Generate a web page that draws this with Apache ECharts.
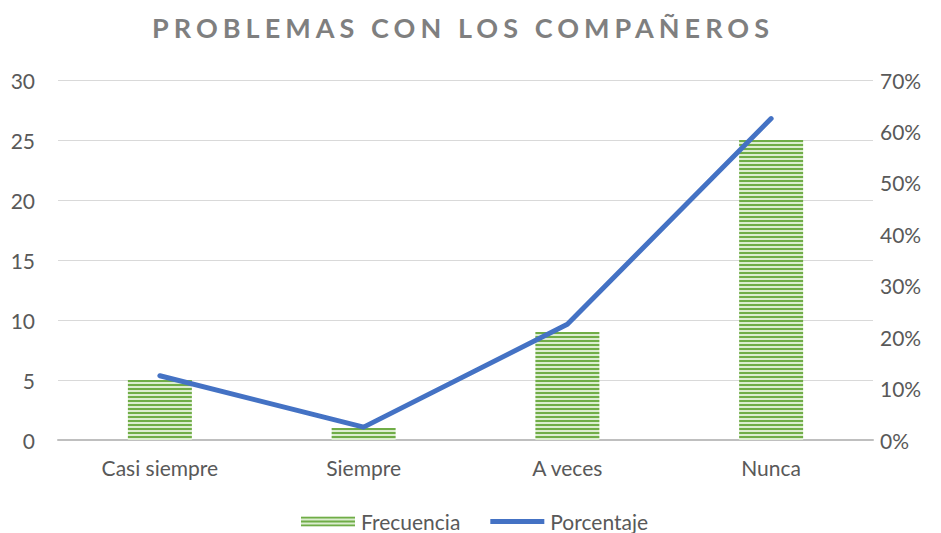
<!DOCTYPE html>
<html lang="es">
<head>
<meta charset="UTF-8">
<title>Problemas con los compañeros</title>
<script src="https://cdn.jsdelivr.net/npm/echarts@6/dist/echarts.min.js"></script>
<style>html,body{margin:0;padding:0;background:#fff}</style>
</head>
<body>
<div id="main" style="width:941px;height:533px;"></div>
<script>
const categories = ['Casi siempre', 'Siempre', 'A veces', 'Nunca'];
const frecuencia = [5, 1, 9, 25];
const porcentaje = [0.125, 0.025, 0.225, 0.625];

// striped fill for the bars
const tile = document.createElement('canvas');
tile.width = 4; tile.height = 4;
const tctx = tile.getContext('2d');
tctx.fillStyle = '#dcedd0';
tctx.fillRect(0, 0, 4, 4);
tctx.fillStyle = '#70ad47';
tctx.fillRect(0, 0, 4, 2);
const stripes = { image: tile.toDataURL(), repeat: 'repeat' };

const chart = echarts.init(document.getElementById('main'), null, { renderer: 'svg' });
const font = 'Lato, "Open Sans", sans-serif';
const TITLE = 'PROBLEMAS CON LOS COMPAÑEROS';

chart.setOption({
    animation: false,
    title: {
        text: TITLE,
        left: 147,
        top: 9,
        textStyle: { fontFamily: font, fontSize: 27, fontWeight: 'bold', color: '#7f7f7f' }
    },
    legend: {
        bottom: -4,
        left: 296,
        itemGap: 30,
        itemWidth: 54,
        itemHeight: 10,
        symbolKeepAspect: true,
        textStyle: { fontFamily: font, fontSize: 21, color: '#595959', padding: [0, 0, 0, 1] },
        data: [
            { name: 'Frecuencia', icon: 'rect' },
            { name: 'Porcentaje', icon: 'path://M0,0h54v5h-54z', itemStyle: { color: '#4472c4' } }
        ]
    },
    grid: { left: 58, right: 68, top: 80, bottom: 93 },
    xAxis: {
        type: 'category',
        data: categories,
        axisLine: { lineStyle: { color: '#bfbfbf', width: 2 } },
        axisTick: { show: false },
        axisLabel: { fontFamily: font, fontSize: 21, color: '#595959', margin: 17 }
    },
    yAxis: [{
        type: 'value',
        min: 0, max: 30, interval: 5,
        axisLine: { show: false },
        axisTick: { show: false },
        splitLine: { lineStyle: { color: '#d9d9d9', width: 1 } },
        axisLabel: { fontFamily: font, fontSize: 21, color: '#595959', margin: 23 }
    }, {
        type: 'value',
        min: 0, max: 0.7, interval: 0.1,
        axisLine: { show: false },
        axisTick: { show: false },
        splitLine: { show: false },
        axisLabel: {
            fontFamily: font, fontSize: 21, color: '#595959', margin: 7,
            formatter: v => Math.round(v * 100) + '%'
        }
    }],
    series: [{
        name: 'Frecuencia',
        type: 'bar',
        data: frecuencia,
        barWidth: 64,
        itemStyle: { color: stripes }
    }, {
        name: 'Porcentaje',
        type: 'line',
        yAxisIndex: 1,
        data: porcentaje,
        symbol: 'none',
        lineStyle: { color: '#4472c4', width: 5, cap: 'round', join: 'round' },
        itemStyle: { color: '#4472c4' }
    }]
});

function spaceTitle() {
    document.querySelectorAll('#main svg text').forEach(t => {
        if (t.textContent === TITLE) t.setAttribute('letter-spacing', '5.05px');
    });
}
spaceTitle();
chart.on('finished', spaceTitle);
</script>
</body>
</html>
